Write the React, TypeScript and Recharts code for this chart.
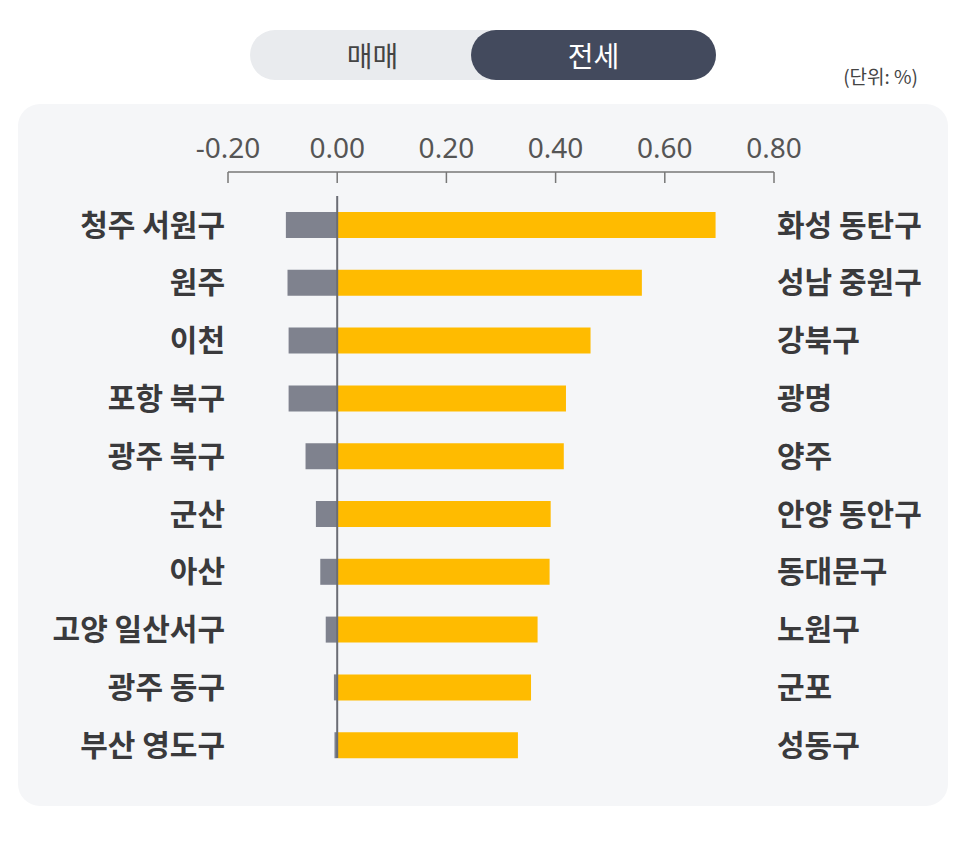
import {
  BarChart,
  Bar,
  XAxis,
  YAxis,
  ReferenceLine,
} from "recharts";

const leftRegions = ["청주 서원구", "원주", "이천", "포항 북구", "광주 북구", "군산", "아산", "고양 일산서구", "광주 동구", "부산 영도구"];
const leftValues = [-0.094, -0.091, -0.089, -0.089, -0.058, -0.039, -0.031, -0.021, -0.006, -0.005];
const rightRegions = ["화성 동탄구", "성남 중원구", "강북구", "광명", "양주", "안양 동안구", "동대문구", "노원구", "군포", "성동구"];
const rightValues = [0.693, 0.558, 0.464, 0.419, 0.415, 0.391, 0.389, 0.367, 0.355, 0.331];
const xTicks = [-0.2, 0, 0.2, 0.4, 0.6, 0.8];

const data = leftRegions.map((left, i) => ({
  left,
  right: rightRegions[i],
  down: leftValues[i],
  up: rightValues[i],
}));

const FONT = "'Noto Sans CJK KR', 'Noto Sans', sans-serif";

// top axis: label above, small tick hanging down from the axis line
const TopTick = (props: any) => {
  const { x, y, payload } = props;
  return (
    <g>
      <line x1={x} x2={x} y1={y} y2={y + 11} stroke="#777" strokeWidth={1.5} />
      <text x={x} y={y - 14} textAnchor="middle" fontSize={28} fill="#555" fontFamily="'Noto Sans', sans-serif">
        {payload.value.toFixed(2)}
      </text>
    </g>
  );
};

const ZeroLine = (props: any) => {
  const { x1, y1, x2, y2 } = props;
  return <line x1={x1} x2={x2} y1={y1 + 24} y2={y2 - 16} stroke="#6b6d75" strokeWidth={2} />;
};

const App = () => {
  return (
    <div style={{ position: "absolute", left: 0, top: 0, width: 966, height: 855, background: "#fff", fontFamily: FONT }}>
      {/* toggle */}
      <div style={{ position: "absolute", left: 250, top: 30, width: 466, height: 50, borderRadius: 25, background: "#e9ebee" }} />
      <div style={{ position: "absolute", left: 471, top: 30, width: 245, height: 50, borderRadius: 25, background: "#434a5d" }} />
      <div style={{ position: "absolute", left: 250, top: 30, width: 245, height: 50, lineHeight: "50px", textAlign: "center", fontSize: 28, color: "#444" }}>매매</div>
      <div style={{ position: "absolute", left: 471, top: 30, width: 245, height: 50, lineHeight: "50px", textAlign: "center", fontSize: 28, color: "#fff" }}>전세</div>
      <div style={{ position: "absolute", left: 818, top: 62, width: 100, textAlign: "right", fontSize: 19, color: "#444" }}>(단위: %)</div>
      {/* panel */}
      <div style={{ position: "absolute", left: 18, top: 104, width: 930, height: 702, borderRadius: 22, background: "#f5f6f8" }} />
      <div style={{ position: "absolute", left: 0, top: 0 }}>
        <BarChart
          width={966}
          height={855}
          data={data}
          layout="vertical"
          stackOffset="sign"
          margin={{ top: 100, right: 20, bottom: 81, left: 20 }}
        >
          <XAxis
            type="number"
            orientation="top"
            domain={[-0.2, 0.8]}
            ticks={xTicks}
            allowDataOverflow
            height={72}
            tickSize={0}
            tickMargin={0}
            tickLine={false}
            axisLine={{ stroke: "#777", strokeWidth: 1.5 }}
            tick={<TopTick />}
          />
          <YAxis
            yAxisId="left"
            type="category"
            dataKey="left"
            width={208}
            padding={{ top: 24, bottom: 0 }}
            axisLine={false}
            tickLine={false}
            tickSize={0}
            tickMargin={3}
            tick={{ fontSize: 30, fontWeight: 700, fill: "#3a3a3c", fontFamily: FONT }}
          />
          <YAxis
            yAxisId="right"
            orientation="right"
            type="category"
            dataKey="right"
            width={172}
            padding={{ top: 24, bottom: 0 }}
            axisLine={false}
            tickLine={false}
            tickSize={0}
            tickMargin={3}
            tick={{ fontSize: 30, fontWeight: 700, fill: "#3a3a3c", fontFamily: FONT, textAnchor: "start" }}
          />
          <Bar yAxisId="left" dataKey="down" stackId="a" fill="#7f828e" barSize={26} isAnimationActive={false} />
          <Bar yAxisId="left" dataKey="up" stackId="a" fill="#ffbb00" barSize={26} isAnimationActive={false} />
          <ReferenceLine yAxisId="left" x={0} shape={<ZeroLine />} />
        </BarChart>
      </div>
    </div>
  );
};

export default App;
